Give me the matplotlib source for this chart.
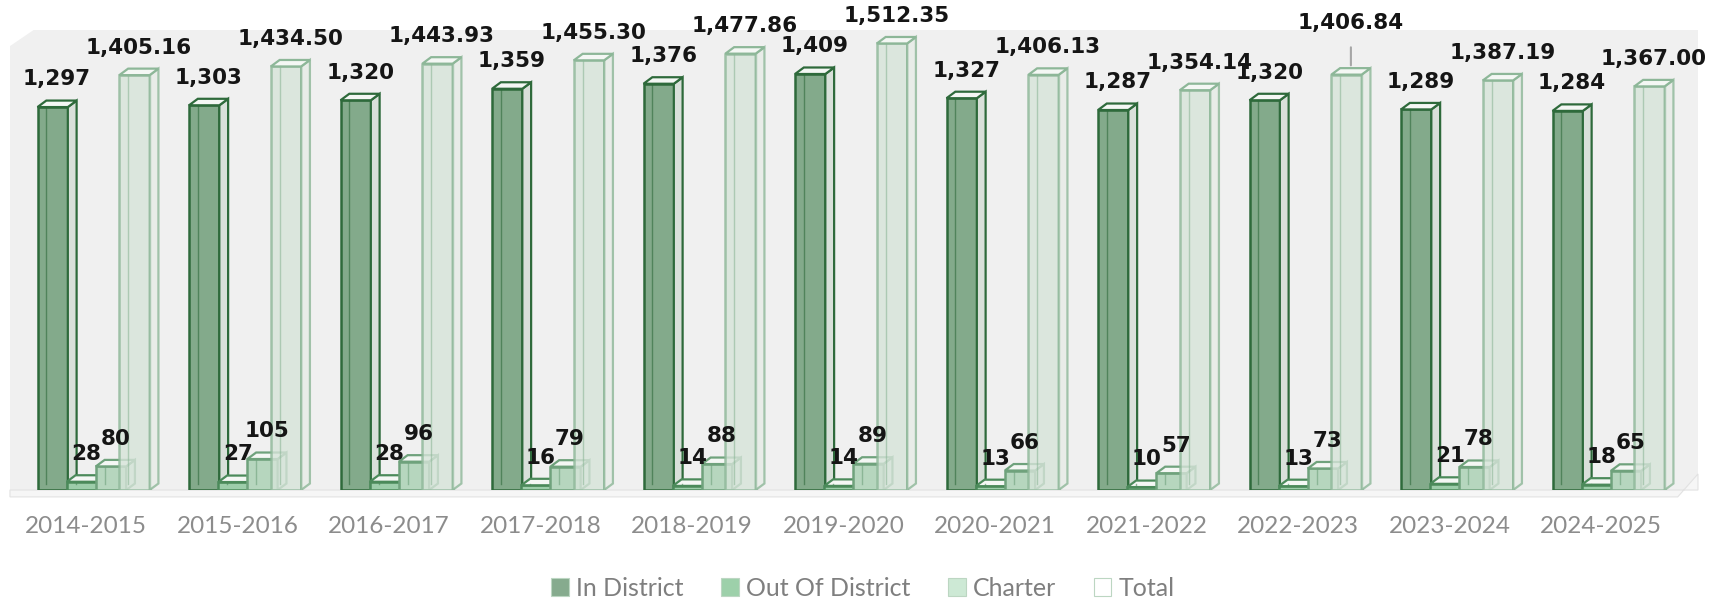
import numpy as np
import matplotlib.pyplot as plt
from matplotlib.patches import Polygon

years = ['2014-2015', '2015-2016', '2016-2017', '2017-2018', '2018-2019', '2019-2020',
         '2020-2021', '2021-2022', '2022-2023', '2023-2024', '2024-2025']
in_district = [1297, 1303, 1320, 1359, 1376, 1409, 1327, 1287, 1320, 1289, 1284]
out_district = [28, 27, 28, 16, 14, 14, 13, 10, 13, 21, 18]
charter = [80, 105, 96, 79, 88, 89, 66, 57, 73, 78, 65]
total = [1405.16, 1434.50, 1443.93, 1455.30, 1477.86, 1512.35, 1406.13, 1354.14, 1406.84, 1387.19, 1367.00]

# name, values, front, edge, side, alpha, label format
series = [
    ('In District', in_district, '#83aa8b', '#2e6a3b', '#d9e0da', 1.0, '{:,.0f}'),
    ('Out Of District', out_district, '#9dcdaa', '#4b8a5a', '#e2ebe4', 1.0, '{:,.0f}'),
    ('Charter', charter, '#b6d6be', '#6fa27c', '#e0ebe3', 1.0, '{:,.0f}'),
    ('Total', total, '#d6e4d9', '#8db798', '#e6ece7', 0.8, '{:,.2f}'),
]
legend_colors = ['#86ab8e', '#9dd0aa', '#cde9d5', '#ffffff']

fig = plt.figure(figsize=(17.16, 6.0), dpi=100)
ax = fig.add_axes([0.0058, 0.1833, 0.9837, 0.7667])
ax.set_facecolor('#f0f0f0')
ax.set_ylim(0, 1558)
ax.set_xlim(-0.502, 10.64)

x = np.arange(len(years))
offsets = [-0.22, -0.027, 0.165, 0.32]
width = 0.2
ddx = 0.058
ddy = 22

for k, (name, vals, face, edge, side, alpha, fmt) in enumerate(series):
    xs = x + offsets[k]
    z = 3 + k
    ax.bar(xs, vals, width=width, color=face, alpha=alpha, edgecolor=edge, linewidth=1.8, zorder=z)
    for xi, v in zip(xs, vals):
        l, r = xi - width / 2, xi + width / 2
        # right side face
        ax.add_patch(Polygon([(r, 0), (r + ddx, ddy), (r + ddx, v + ddy), (r, v)],
                             closed=True, facecolor=side, alpha=alpha, edgecolor=edge, linewidth=1.6, zorder=z))
        # top face
        ax.add_patch(Polygon([(l, v), (l + ddx, v + ddy), (r + ddx, v + ddy), (r, v)],
                             closed=True, facecolor='#f4f7f4', edgecolor=edge, linewidth=1.6, zorder=z))
        # back edge seen through the front face
        ax.plot([l + ddx, l + ddx], [ddy, v], color=edge, lw=1.0, alpha=0.6, zorder=z)

# data labels
lab = dict(textcoords='offset points', ha='center', va='bottom',
           fontsize=15.5, fontweight='bold', color='#151515', zorder=20)
for i in range(len(years)):
    for k, (name, vals, face, edge, side, alpha, fmt) in enumerate(series):
        pt = (x[i] + offsets[k] + ddx / 2, vals[i] + ddy)
        if k == 3 and i == 8:
            ax.annotate(fmt.format(vals[i]), pt, xytext=(0, 25),
                        arrowprops=dict(arrowstyle='-', color='#a6a6a6', lw=1.5, shrinkA=8, shrinkB=2),
                        **lab)
        else:
            ax.annotate(fmt.format(vals[i]), pt, xytext=(0, 8), **lab)

# chamfered top-left corner of the wall
ax.add_patch(Polygon([(0, 1), (0.014, 1), (0, 0.965)], closed=True, transform=ax.transAxes,
                     facecolor='white', edgecolor='none', zorder=30, clip_on=False))
# floor
ax.add_patch(Polygon([(0.0, 0.0), (1.0, 0.0), (1.0, 0.035), (0.988, -0.015), (0.0, -0.015)], closed=True,
                     transform=ax.transAxes, facecolor='#f6f6f6', edgecolor='#e2e2e2', lw=0.8,
                     zorder=1, clip_on=False))

ax.set_xticks(x)
ax.set_xticklabels(years, fontsize=17.5, color='#8c8c8c', family=['Lato', 'DejaVu Sans'])
ax.tick_params(axis='x', length=0, pad=19)
ax.set_yticks([])
for s in ax.spines.values():
    s.set_visible(False)

handles = [plt.Rectangle((0, 0), 1, 1, facecolor=c, edgecolor='#bcd6c2', lw=0.8) for c in legend_colors]
leg = fig.legend(handles, [s[0] for s in series], loc='center', bbox_to_anchor=(0.503, 0.02),
                 ncol=4, frameon=False, handlelength=0.7, handleheight=0.7,
                 columnspacing=1.5, handletextpad=0.3,
                 prop={'family': ['Lato', 'DejaVu Sans'], 'size': 18})
for t in leg.get_texts():
    t.set_color('#7f7f7f')

fig.savefig('out.png', dpi=100)
